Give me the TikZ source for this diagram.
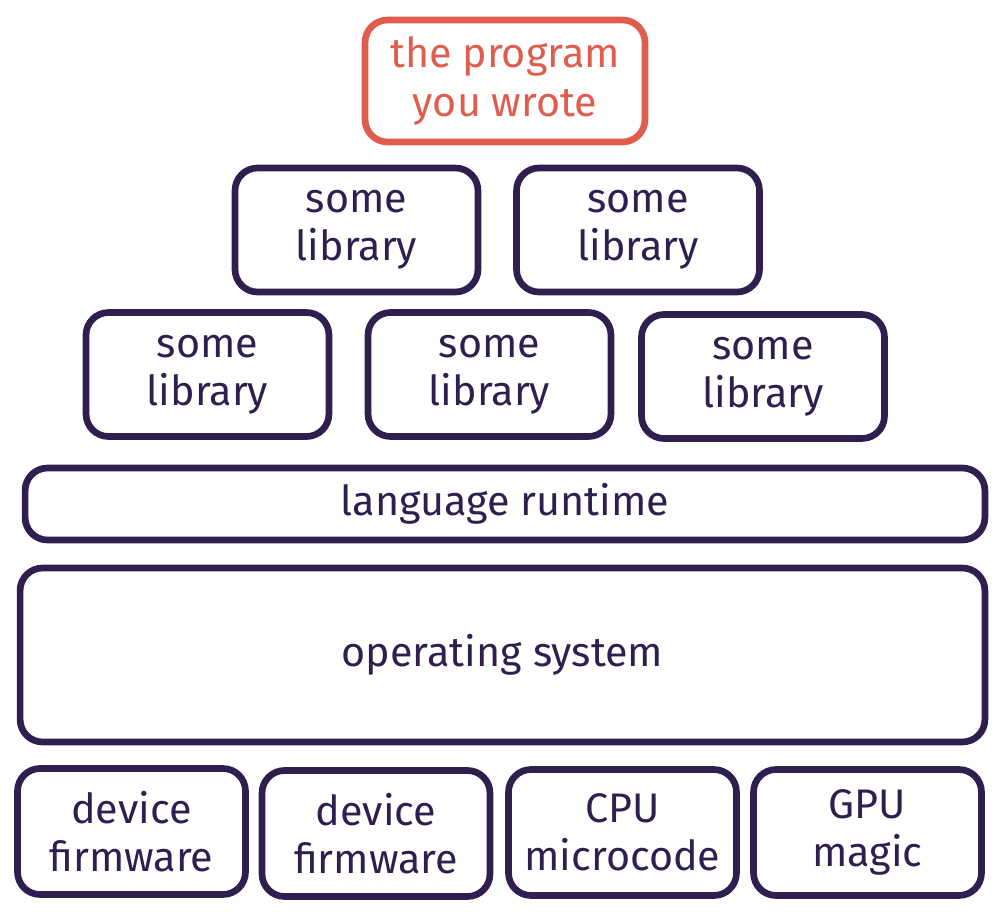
\documentclass[tikz,border=0pt]{standalone}
\usepackage{fontspec}
\setmainfont{Fira Sans}
\usepackage{tikz}
\usetikzlibrary{positioning}
\definecolor{inkblue}{HTML}{2E1F4F}
\definecolor{inkred}{HTML}{E05D4E}

\begin{document}
\begin{tikzpicture}
[x=0.02cm, y=-0.02cm,
% STYLES
% layer is the common look of every box in the stack
layer/.style={rectangle, draw=inkblue, text=inkblue, line width=3.8pt, rounded corners=0.45cm, align=center, inner sep=2pt, font=\fontsize{23.5}{27.5}\selectfont},
% own is the box at the top
own/.style={layer, draw=inkred, text=inkred},
libbox/.style={layer, minimum width=4.86cm, minimum height=2.48cm},
hwbox/.style={layer, minimum width=4.56cm, minimum height=2.52cm}]

\useasboundingbox (0,0) rectangle (1004,912);

% Top
\node [own, minimum width=5.6cm, minimum height=2.44cm] (program) at (505,81) {the program\\you wrote};

% Libraries
\node [libbox] (liba) at (356.5,230) {some\\library};
\node [libbox] (libb) at (638,230) {some\\library};
\node [libbox] (libc) at (207.5,374.5) {some\\library};
\node [libbox] (libd) at (489.5,374.5) {some\\library};
\node [libbox] (libe) at (763,376.5) {some\\library};

% Runtime and OS
\node [layer, minimum width=19.2cm, minimum height=1.44cm] (runtime) at (505,504) {language runtime};
\node [layer, minimum width=19.3cm, minimum height=3.48cm] (os) at (502.5,655) {operating system};

% Hardware
\node [hwbox] (firmwarea) at (131.5,831.5) {device\\firmware};
\node [hwbox] (firmwareb) at (376,833.5) {device\\firmware};
\node [hwbox] (cpu) at (622.5,832.5) {CPU\\microcode};
\node [hwbox] (gpu) at (867.5,832.5) {GPU\\magic};

\end{tikzpicture}
\end{document}
